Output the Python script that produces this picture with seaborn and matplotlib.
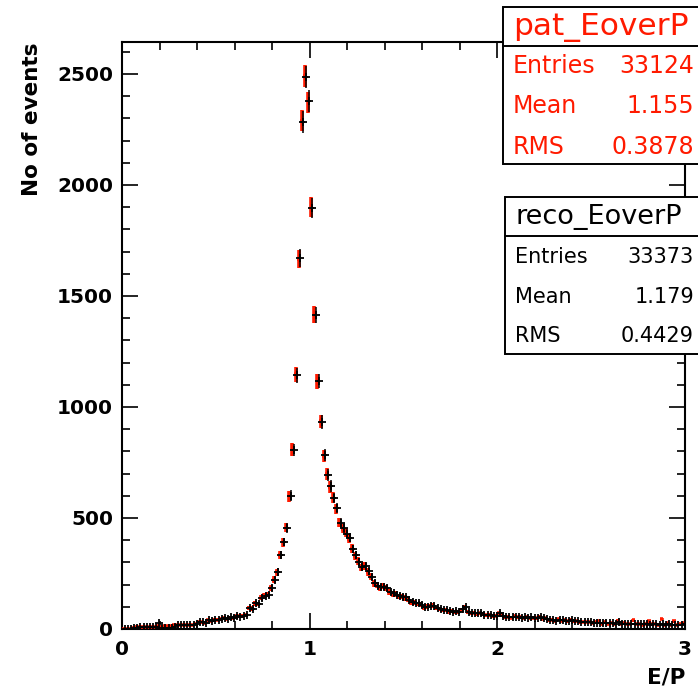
import numpy as np
import pandas as pd
import matplotlib
matplotlib.use("Agg")
import matplotlib.pyplot as plt
import matplotlib.transforms as mtransforms
from matplotlib.patches import Rectangle
from matplotlib.ticker import MultipleLocator
import seaborn as sns

# ---------------- data ----------------
x_min, x_max, n_bins = 0.0, 3.0, 180

reco_counts = [
    0, 0, 0, 3, 6, 8, 7, 9, 8, 10,
    9, 27, 5, 4, 6, 5, 8, 18, 17, 19,
    18, 20, 18, 22, 32, 30, 28, 40, 36, 42,
    40, 44, 50, 46, 52, 50, 58, 56, 60, 62,
    95, 90, 117, 112, 140, 150, 153, 185, 220, 257,
    333, 392, 455, 600, 806, 1144, 1671, 2284, 2486, 2378,
    1896, 1414, 1117, 932, 784, 694, 644, 590, 545, 477,
    455, 430, 410, 360, 333, 302, 279, 282, 260, 234,
    207, 195, 189, 190, 186, 165, 160, 155, 148, 144,
    142, 132, 120, 117, 115, 108, 99, 100, 105, 104,
    96, 88, 86, 84, 80, 78, 80, 76, 88, 99,
    76, 72, 72, 70, 72, 64, 63, 62, 60, 58,
    72, 60, 55, 54, 52, 55, 54, 50, 52, 50,
    52, 48, 50, 52, 48, 46, 42, 40, 38, 42,
    40, 38, 36, 40, 36, 34, 32, 30, 33, 30,
    28, 29, 27, 26, 28, 25, 26, 24, 30, 24,
    23, 24, 22, 22, 24, 21, 22, 21, 20, 23,
    21, 20, 22, 20, 23, 20, 19, 18, 20, 22,
]

pat_counts = [
    0, 0, 0, 4, 7, 8, 8, 9, 9, 10,
    9, 12, 10, 12, 14, 15, 16, 18, 18, 18,
    19, 20, 17, 22, 31, 30, 29, 39, 37, 41,
    41, 43, 49, 47, 51, 50, 57, 57, 59, 61,
    94, 92, 116, 113, 142, 149, 155, 183, 222, 255,
    335, 390, 458, 598, 808, 1148, 1666, 2290, 2490, 2372,
    1900, 1418, 1113, 935, 780, 697, 640, 592, 541, 480,
    452, 433, 406, 362, 330, 305, 276, 284, 257, 236,
    205, 197, 186, 192, 183, 167, 158, 157, 146, 146,
    140, 134, 118, 119, 113, 110, 97, 102, 103, 106,
    94, 90, 84, 86, 78, 80, 78, 78, 86, 97,
    78, 70, 74, 68, 70, 66, 61, 64, 58, 60,
    70, 62, 53, 56, 50, 57, 52, 52, 50, 52,
    50, 50, 48, 54, 46, 48, 40, 42, 36, 44,
    38, 40, 34, 42, 34, 36, 30, 32, 31, 32,
    26, 31, 36, 24, 30, 23, 28, 22, 38, 22,
    25, 22, 24, 40, 22, 23, 20, 23, 34, 21,
    23, 18, 45, 18, 25, 18, 35, 16, 22, 28,
]

stats_pat = [("Entries", "33124"), ("Mean", "1.155"), ("RMS", "0.3878")]
stats_reco = [("Entries", "33373"), ("Mean", "1.179"), ("RMS", "0.4429")]

# ---------------- build table ----------------
bin_width = (x_max - x_min) / n_bins
centers = x_min + bin_width * (np.arange(n_bins) + 0.5)
df = pd.DataFrame({
    "E/P": np.concatenate([centers, centers]),
    "count": np.concatenate([pat_counts, reco_counts]).astype(float),
    "hist": ["pat_EoverP"] * n_bins + ["reco_EoverP"] * n_bins,
})
df["err"] = np.sqrt(df["count"])
pat = df[df["hist"] == "pat_EoverP"]
reco = df[df["hist"] == "reco_EoverP"]

# ---------------- figure ----------------
sns.set_theme(style="ticks", rc={"text.color": "black", "axes.labelcolor": "black",
                                 "xtick.color": "black", "ytick.color": "black",
                                 "axes.edgecolor": "black"})
plt.rcParams["font.family"] = ["DejaVu Sans"]

W, H = 698, 691
fig = plt.figure(figsize=(W / 100, H / 100), dpi=100)
ax = fig.add_axes([122 / W, 62 / H, 563 / W, 587 / H])

RED = "#ff1a00"
ax.errorbar(pat["E/P"], pat["count"], yerr=pat["err"], xerr=bin_width / 2,
            fmt="none", ecolor=RED, elinewidth=2.6, capsize=0, zorder=3)

shift = ax.transData + mtransforms.ScaledTranslation(1.2 / 100, 0, fig.dpi_scale_trans)
ax.errorbar(reco["E/P"], reco["count"], yerr=reco["err"], xerr=bin_width / 2,
            fmt="none", ecolor="black", elinewidth=1.1, capsize=0, zorder=4,
            transform=shift)
sns.scatterplot(data=reco, x="E/P", y="count", marker="+", s=32, color="black",
                linewidth=1.3, ax=ax, zorder=5, transform=shift, legend=False)

ax.set_xlim(x_min, x_max)
ax.set_ylim(0, 2644)
ax.xaxis.set_major_locator(MultipleLocator(1))
ax.xaxis.set_minor_locator(MultipleLocator(0.2))
ax.yaxis.set_major_locator(MultipleLocator(500))
ax.yaxis.set_minor_locator(MultipleLocator(100))
ax.tick_params(which="both", direction="in", top=True, right=True, width=1.2, color="black")
ax.tick_params(which="major", length=11.5)
ax.tick_params(which="minor", length=5.8)
ax.tick_params(axis="y", which="major", pad=6.5, labelsize=14.5, labelcolor="black")
ax.tick_params(axis="x", which="major", pad=8, labelsize=14.5, labelcolor="black")
for lab in ax.get_xticklabels() + ax.get_yticklabels():
    lab.set_fontweight("bold")
for sp in ax.spines.values():
    sp.set_linewidth(1.5)
    sp.set_color("black")

ax.set_xlabel("E/P", fontsize=15.5, fontweight="bold", loc="right", color="black")
ax.xaxis.set_label_coords(1.0, -0.066)
ax.set_ylabel("No of events", fontsize=15.5, fontweight="bold", loc="top", color="black")
ax.yaxis.set_label_coords(-0.142, 1.0)

# ---------------- stat boxes ----------------
def fx(px):
    return px / W

def fy(py):
    return 1 - py / H

def stat_box(left, top, sep, bottom, title, rows, color, tsize, rsize, row_y):
    fig.patches.append(Rectangle((fx(left), fy(bottom)), 1.05 - fx(left), fy(top) - fy(bottom),
                                 transform=fig.transFigure, facecolor="white",
                                 edgecolor="black", linewidth=1.4, zorder=10, clip_on=False))
    fig.lines.append(plt.Line2D([fx(left), 1.0], [fy(sep), fy(sep)], transform=fig.transFigure,
                                color="black", linewidth=1.4, zorder=11))
    fig.text(fx(left + 10), fy((top + sep) / 2 + 1), title, color=color, fontsize=tsize,
             ha="left", va="center", zorder=12)
    for (name, val), yy in zip(rows, row_y):
        fig.text(fx(left + 10), fy(yy), name, color=color, fontsize=rsize,
                 ha="left", va="center", zorder=12)
        fig.text(fx(694), fy(yy), val, color=color, fontsize=rsize,
                 ha="right", va="center", zorder=12)

stat_box(503, 7, 46, 164, "pat_EoverP", stats_pat, RED, 22.5, 17, [66, 106, 147])
stat_box(505, 197, 236, 354, "reco_EoverP", stats_reco, "black", 19.5, 15, [257, 297, 336])

fig.savefig("out.png", dpi=100)
